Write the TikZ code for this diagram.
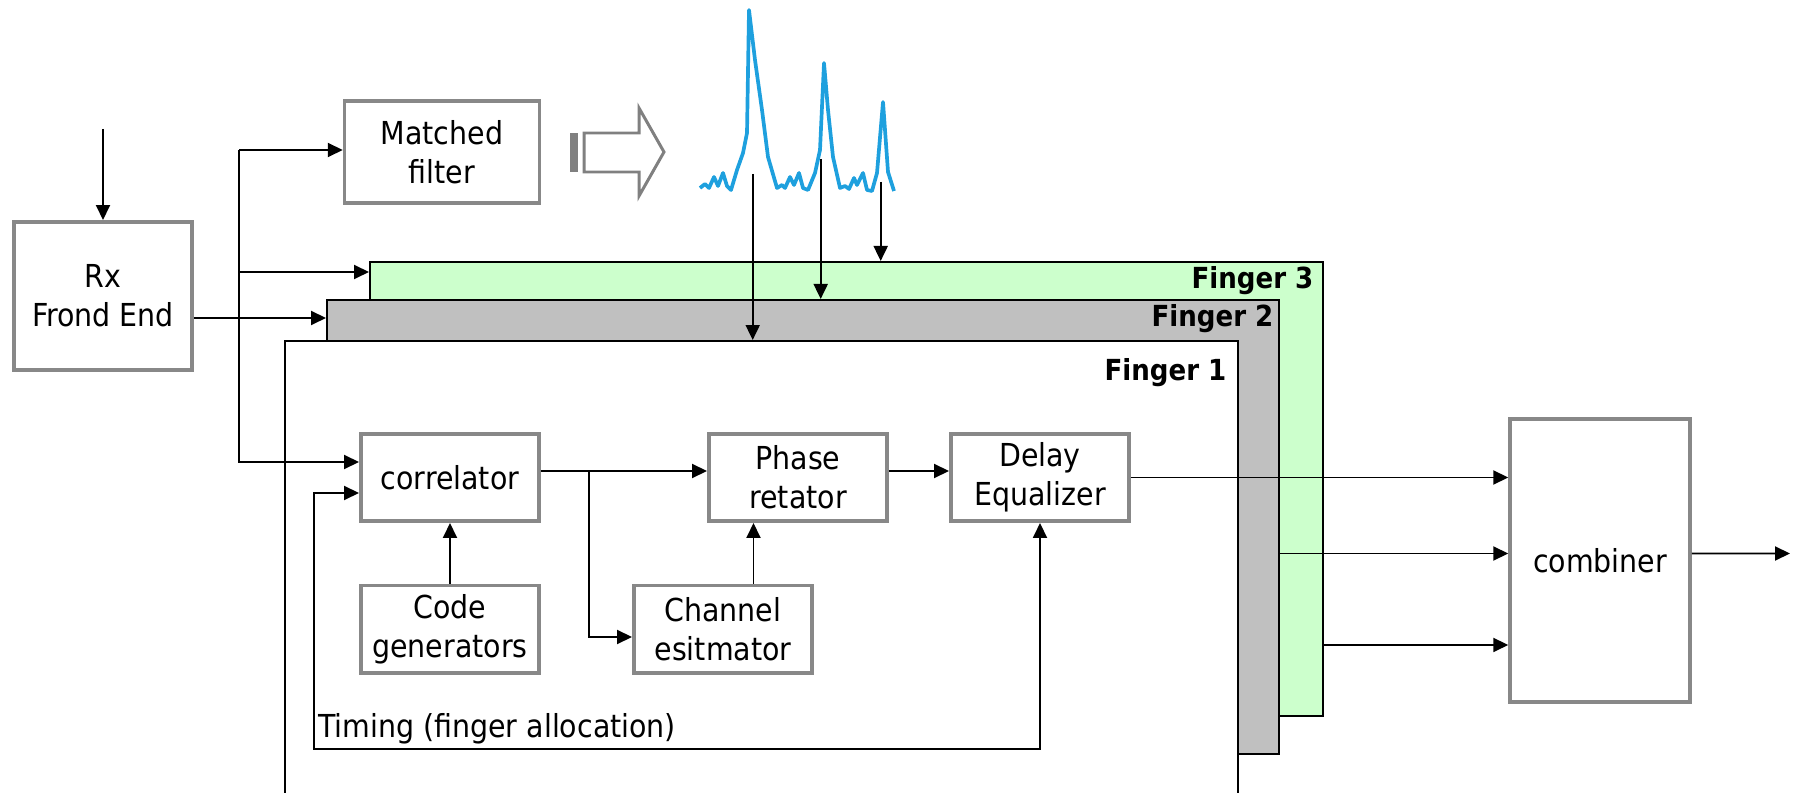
\documentclass[tikz,border=0pt]{standalone}
\usepackage{fontspec}
\setmainfont{DejaVu Sans Condensed}
\usepackage{tikz}
\usetikzlibrary{arrows.meta, positioning}

\definecolor{fingergreen}{RGB}{204,255,204}
\definecolor{fingergray}{RGB}{192,192,192}
\definecolor{boxgray}{RGB}{136,136,136}
\definecolor{peakblue}{RGB}{30,160,222}

\begin{document}
\begin{tikzpicture}[
    x=0.02cm, y=-0.02cm,
    font=\fontsize{18}{22}\selectfont,
    arr/.style={-{Triangle[length=0.3cm, width=0.28cm]}, line width=1.1pt},
    darr/.style={{Triangle[length=0.3cm, width=0.28cm]}-{Triangle[length=0.3cm, width=0.28cm]}, line width=1.1pt},
    block/.style={draw=boxgray, line width=2pt, fill=white, align=center,
        minimum width=3.57cm, minimum height=1.75cm, inner sep=0pt},
    finger/.style={draw=black, line width=1.1pt, anchor=north west, inner sep=0pt},
    flabel/.style={anchor=base east, inner sep=0pt,
        font=\fontsize{16.5}{19}\selectfont\bfseries}
]
    \clip (0,0) rectangle (1798,793);

    % Rake fingers (back to front)
    \node[finger, fill=fingergreen, minimum width=19.06cm, minimum height=9.08cm] (f3) at (369,261) {};
    \node[finger, fill=fingergray, minimum width=19.04cm, minimum height=9.08cm] (f2) at (326,299) {};
    \node[finger, fill=white, minimum width=19.06cm, minimum height=10cm] (f1) at (284,340) {};

    \node[flabel] (lab3) at ([xshift=-0.2cm, yshift=-0.56cm]f3.north east) {Finger 3};
    \node[flabel] (lab2) at ([xshift=-0.12cm, yshift=-0.56cm]f2.north east) {Finger 2};
    \node[flabel] (lab1) at ([xshift=-0.24cm, yshift=-0.82cm]f1.north east) {Finger 1};

    % Front end and matched filter
    \node[block, minimum height=2.97cm] (rx) at (103,296) {Rx\\Frond End};
    \node[block, minimum width=3.9cm, minimum height=2.05cm] (mf) at (442,152) {Matched\\filter};

    % Matched filter output arrow
    \fill[gray] (570,133) rectangle (578,172);
    \draw[gray, line width=1.7pt] (584,133) -- (639,133) -- (639,108) -- (664,152)
        -- (639,196) -- (639,172) -- (584,172) -- cycle;

    % Power delay profile
    \draw[peakblue, line width=2.1pt, line join=round] plot coordinates {
        (700,188) (705,184) (709,188) (714,177) (718,186) (723,173) (727,186)
        (731,190) (737,170) (743,153) (747,133) (749,10) (755,60) (762,110)
        (768,157) (777,188) (782,185) (785,188) (790,177) (794,185) (799,173)
        (803,188) (808,190) (815,173) (820,150) (824,63) (828,110) (833,157)
        (840,188) (845,186) (849,189) (854,178) (857,185) (863,173) (867,190)
        (872,191) (877,173) (883,102) (888,172) (894,191)};

    % Finger 1 blocks
    \node[block] (corr) at (450,477.5) {correlator};
    \node[block] (phase) at (798,477.5) {Phase\\retator};
    \node[block] (delay) at (1040,477.5) {Delay\\Equalizer};
    \node[block] (code) at (450,629) {Code\\generators};
    \node[block] (chan) at (723,629) {Channel\\esitmator};

    \node[block, minimum width=3.6cm, minimum height=5.67cm] (comb) at (1600,560.5) {combiner};

    \node[anchor=base west, inner sep=0pt] (timing) at (318,737) {Timing (finger allocation)};

    % Inputs
    \coordinate (rxin) at (103,129);
    \draw[arr] (rxin) -- (rx.north);

    \coordinate (bustop) at (239,150);
    \coordinate (busf3) at (239,272);
    \coordinate (corrin) at ([yshift=0.31cm]corr.west);
    \coordinate (rxout) at ([yshift=-0.44cm]rx.east);
    \draw[arr] (bustop) -- (bustop -| mf.west);
    \draw[arr] (bustop) |- (corrin);
    \draw[arr] (busf3) -- (busf3 -| f3.west);
    \draw[arr] (rxout) -- (rxout -| f2.west);

    % Peaks to fingers
    \coordinate (pk1) at (752.7,174);
    \coordinate (pk2) at (820.7,159);
    \coordinate (pk3) at (880.7,182);
    \draw[arr] (pk1) -- (pk1 |- f1.north);
    \draw[arr] (pk2) -- (pk2 |- f2.north);
    \draw[arr] (pk3) -- (pk3 |- f3.north);

    % Finger 1 connections
    \coordinate (corrout) at ([yshift=0.13cm]corr.east);
    \coordinate (split) at (589,471);
    \coordinate (chanout) at ([xshift=0.61cm]chan.north);
    \draw[arr] (corrout) -- (corrout -| phase.west);
    \draw[arr] (split) |- ([yshift=-0.16cm]chan.west);
    \draw[arr] (code) -- (corr);
    \draw[arr] (chanout) -- (chanout |- phase.south);
    \draw[arr] ([yshift=0.13cm]phase.east) -- ([yshift=0.13cm]delay.west);

    % Timing loop
    \coordinate (tim) at (314,749);
    \draw[darr] (delay.south) |- (tim) |- ([yshift=-0.31cm]corr.west);

    % Combiner inputs and output
    \coordinate (cin2) at ([yshift=0.14cm]comb.west);
    \coordinate (cin3) at ([yshift=-1.69cm]comb.west);
    \coordinate (cout) at ([yshift=0.14cm]comb.east);
    \coordinate (out) at (1790,553.5);
    \draw[arr] (delay.east) -- (delay.east -| comb.west);
    \draw[arr] (cin2 -| f2.east) -- (cin2);
    \draw[arr] (cin3 -| f3.east) -- (cin3);
    \draw[arr] (cout) -- (out);

\end{tikzpicture}
\end{document}
